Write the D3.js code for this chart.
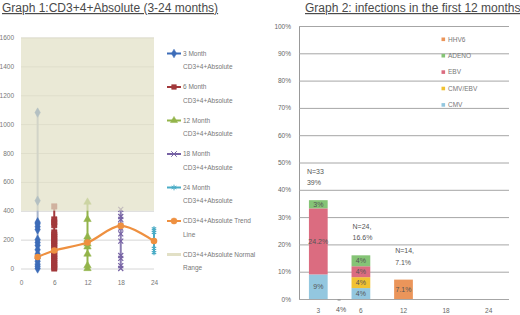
<!DOCTYPE html>
<html lang="en">
<head>
<meta charset="UTF-8">
<title>CD3+4+ Absolute and infections</title>
<style>
  body { margin: 0; background: #fff; }
  svg { display: block; font-family: "Liberation Sans", Arial, sans-serif; }
  .title { font-size: 12px; fill: #4a4a4a; text-decoration: underline; }
  .small { font-size: 6.5px; fill: #777; }
  .lbl { font-size: 7px; fill: #555; }
</style>
</head>
<body>
<svg width="520" height="315"></svg>

<script src="https://d3js.org/d3.v7.min.js"></script>
<script>

  // ---- graph 1 data ----
  var monthTicks = [0, 6, 12, 18, 24];
  var cdTicks = [0, 200, 400, 600, 800, 1000, 1200, 1400, 1600];

  var seriesMonths = [3, 6, 12, 18, 24];
  var seriesNames = ["3 Month", "6 Month", "12 Month", "18 Month", "24 Month"];
  var month3 = [0, 15, 30, 50, 70, 100, 130, 160, 180, 200, 270, 290, 310, 320, 470, 1080];
  var month6 = [0, 10, 25, 40, 55, 70, 85, 100, 120, 140, 160, 175, 190, 205, 220, 235, 250, 300, 320, 340, 430];
  var month12 = [0, 20, 100, 150, 170, 200, 220, 340, 460];
  var month18 = [0, 20, 70, 90, 190, 240, 280, 300, 340, 360, 410];
  var month24 = [110, 140, 190, 250, 275];

  var trendMonths = [3, 6, 12, 18, 24];
  var trendValues = [80, 125, 180, 295, 190];
  var normalRange = [400, 1600];

  // ---- graph 2 data ----
  var infCategories = ["3", "6", "12", "18", "24"];
  var infKeys = ["CMV", "CMV/EBV", "EBV", "ADENO", "HHV6"];
  var cmv = [9, 4, 0, 0, 0];
  var cmvEbv = [0, 4, 0, 0, 0];
  var ebv = [24.2, 4, 0, 0, 0];
  var adeno = [3, 4, 0, 0, 0];
  var hhv6 = [0, 0, 7.1, 0, 0];
  var totalLabels = [["N=33", "39%"], ["N=24,", "16.6%"], ["N=14,", "7.1%"], null, null];
  var pctTicks = [0, 10, 20, 30, 40, 50, 60, 70, 80, 90, 100];

  var svg = d3.select("svg");

  // ================= graph 1 =================
  var g1 = svg.append("g");

  g1.append("text").attr("class", "title")
    .attr("x", 2).attr("y", 12)
    .text("Graph 1:CD3+4+Absolute (3-24 months)");

  var x1 = d3.scaleLinear().domain([0, 24]).range([21, 154]);
  var y1 = d3.scaleLinear().domain([0, 1600]).range([268.5, 37.5]);

  var yAxis1 = g1.append("g")
    .attr("transform", "translate(21,0)")
    .call(d3.axisLeft(y1).tickValues(cdTicks).tickSize(-133).tickPadding(7).tickFormat(d3.format("d")));
  yAxis1.select(".domain").remove();
  yAxis1.selectAll("line").attr("stroke", "#d6d6d6");
  yAxis1.selectAll("text").attr("fill", "#777").attr("font-size", 6.5);

  var xAxis1 = g1.append("g")
    .attr("transform", "translate(0,268.5)")
    .call(d3.axisBottom(x1).tickValues(monthTicks).tickSize(0).tickPadding(12));
  xAxis1.select(".domain").remove();
  xAxis1.selectAll("text").attr("fill", "#777").attr("font-size", 6.5);

  var seriesValues = [month3, month6, month12, month18, month24];
  var seriesColors = ["#3d6cb8", "#a2393b", "#93b44a", "#7662a4", "#4aacc6"];
  var lineColors = ["#a9b5cc", "#a2393b", "#93b44a", "#8a7cb2", "#4aacc6"];
  var seriesSymbols = [d3.symbolDiamond, d3.symbolSquare, d3.symbolTriangle, d3.symbolTimes, d3.symbolAsterisk];
  var symSizes = [26, 30, 24, 18, 18];

  seriesValues.forEach(function(vals, i) {
    var cx = x1(seriesMonths[i]);
    g1.append("line")
      .attr("x1", cx).attr("x2", cx)
      .attr("y1", y1(d3.min(vals))).attr("y2", y1(d3.max(vals)))
      .attr("stroke", lineColors[i]).attr("stroke-width", 2);
    var filled = i < 3;
    g1.selectAll(".m" + i)
      .data(vals)
      .enter()
      .append("path")
      .attr("class", "m" + i)
      .attr("transform", function(d) { return "translate(" + cx + "," + y1(d) + ")"; })
      .attr("d", d3.symbol().type(seriesSymbols[i]).size(symSizes[i]))
      .attr("fill", filled ? seriesColors[i] : "none")
      .attr("stroke", seriesColors[i])
      .attr("stroke-width", filled ? 0.5 : 1.2);
  });

  // normal range band drawn over the points, semi transparent
  g1.append("rect")
    .attr("x", x1(0)).attr("width", x1(24) - x1(0))
    .attr("y", y1(normalRange[1])).attr("height", y1(normalRange[0]) - y1(normalRange[1]))
    .attr("fill", "#e2e0c6").attr("opacity", 0.72);

  var trendLine = d3.line()
    .x(function(d, i) { return x1(trendMonths[i]); })
    .y(function(d) { return y1(d); })
    .curve(d3.curveCatmullRom.alpha(0.5));

  g1.append("path")
    .attr("d", trendLine(trendValues))
    .attr("fill", "none").attr("stroke", "#ee9040").attr("stroke-width", 2.2);

  g1.selectAll(".trendDot")
    .data(trendValues)
    .enter()
    .append("circle")
    .attr("class", "trendDot")
    .attr("cx", function(d, i) { return x1(trendMonths[i]); })
    .attr("cy", function(d) { return y1(d); })
    .attr("r", 3.3)
    .attr("fill", "#ee9040");

  // legend
  var legendLines = seriesNames.map(function(n) { return [n, "CD3+4+Absolute"]; })
    .concat([["CD3+4+Absolute Trend", "Line"], ["CD3+4+Absolute Normal", "Range"]]);
  var legendColors = seriesColors.concat(["#ee9040", "#e2e0c6"]);
  var legendSymbols = seriesSymbols.concat([d3.symbolCircle, null]);

  legendLines.forEach(function(lines, i) {
    var ly = 53.5 + i * 33.5;
    g1.append("line")
      .attr("x1", 167).attr("x2", 181).attr("y1", ly).attr("y2", ly)
      .attr("stroke", legendColors[i]).attr("stroke-width", i == 6 ? 3 : 2);
    if (legendSymbols[i]) {
      var filled = i < 3 || i == 5;
      g1.append("path")
        .attr("transform", "translate(174," + ly + ")")
        .attr("d", d3.symbol().type(legendSymbols[i]).size(i == 5 ? 30 : 22))
        .attr("fill", filled ? legendColors[i] : "none")
        .attr("stroke", legendColors[i]).attr("stroke-width", filled ? 0.5 : 1);
    }
    g1.append("text").attr("class", "small")
      .attr("x", 183).attr("y", ly).attr("dy", "0.35em").text(lines[0]);
    g1.append("text").attr("class", "small")
      .attr("x", 183).attr("y", ly + 13.5).attr("dy", "0.35em").text(lines[1]);
  });

  // ================= graph 2 =================
  var g2 = svg.append("g");

  g2.append("text").attr("class", "title")
    .attr("x", 305).attr("y", 12)
    .text("Graph 2: infections in the first 12 months");

  var x2 = d3.scaleBand().domain(infCategories).range([297, 510])
    .paddingInner(0.56).paddingOuter(0.28);
  var y2 = d3.scaleLinear().domain([0, 100]).range([299, 26]);

  var yAxis2 = g2.append("g")
    .attr("transform", "translate(299,0)")
    .call(d3.axisLeft(y2).tickValues(pctTicks).tickSize(-210).tickSizeOuter(0).tickPadding(8)
      .tickFormat(function(d) { return d + "%"; }));
  yAxis2.select(".domain").attr("stroke", "#999");
  yAxis2.selectAll("line").attr("stroke", "#a6a6a6");
  yAxis2.selectAll("text").attr("fill", "#666").attr("font-size", 6.5);

  var xAxis2 = g2.append("g")
    .attr("transform", "translate(0,299)")
    .call(d3.axisBottom(x2).tickSize(0).tickPadding(9));
  xAxis2.select(".domain").remove();
  xAxis2.selectAll("text").attr("fill", "#666").attr("font-size", 6.5);

  var infRows = infCategories.map(function(c, i) {
    return { cat: c, "CMV": cmv[i], "CMV/EBV": cmvEbv[i], "EBV": ebv[i], "ADENO": adeno[i], "HHV6": hhv6[i] };
  });
  var stacked = d3.stack().keys(infKeys)(infRows);
  var infColors = d3.scaleOrdinal().domain(infKeys)
    .range(["#93c7df", "#f1c232", "#db6c80", "#85c476", "#eb955a"]);

  stacked.forEach(function(layer) {
    var segs = layer.filter(function(d) { return d[1] - d[0] > 0; });
    g2.selectAll(".seg-" + layer.index)
      .data(segs)
      .enter()
      .append("rect")
      .attr("x", function(d) { return x2(d.data.cat); })
      .attr("width", x2.bandwidth())
      .attr("y", function(d) { return y2(d[1]); })
      .attr("height", function(d) { return y2(d[0]) - y2(d[1]); })
      .attr("fill", infColors(layer.key));
    g2.selectAll(".segl-" + layer.index)
      .data(segs)
      .enter()
      .append("text")
      .attr("class", "lbl")
      .attr("text-anchor", "middle")
      .attr("x", function(d) { return x2(d.data.cat) + x2.bandwidth() / 2; })
      .attr("y", function(d) { return y2((d[0] + d[1]) / 2); })
      .attr("dy", "0.35em")
      .text(function(d) { return d.data[layer.key] + "%"; });
  });

  var topLayer = stacked[stacked.length - 1];
  infCategories.forEach(function(c, i) {
    if (!totalLabels[i]) return;
    var ty = y2(topLayer[i][1]) - 29;
    var tx = x2(c) + (i == 0 ? -2 : 1);
    g2.append("text").attr("class", "lbl").attr("x", tx).attr("y", ty).attr("dy", "0.35em").text(totalLabels[i][0]);
    g2.append("text").attr("class", "lbl").attr("x", tx).attr("y", ty + 11.5).attr("dy", "0.35em").text(totalLabels[i][1]);
  });

  // stray label between 3 and 6
  var midX = (x2("3") + x2("6")) / 2 + x2.bandwidth() / 2;
  g2.append("line").attr("x1", midX - 2).attr("x2", midX + 1).attr("y1", 300).attr("y2", 300)
    .attr("stroke", "#888").attr("stroke-width", 1);
  g2.append("text").attr("class", "lbl").attr("font-size", 6.5).attr("fill", "#666")
    .attr("text-anchor", "middle").attr("x", midX + 1.5).attr("y", 310).attr("dy", "0.35em").text("4%");

  // legend
  infKeys.slice().reverse().forEach(function(k, i) {
    var ly = 39.3 + i * 16.4;
    g2.append("rect").attr("x", 441.5).attr("y", ly - 1.8).attr("width", 3.6).attr("height", 3.6)
      .attr("fill", infColors(k));
    g2.append("text").attr("class", "small").attr("fill", "#666")
      .attr("x", 448).attr("y", ly).attr("dy", "0.35em").text(k);
  });

</script>
</body>
</html>
